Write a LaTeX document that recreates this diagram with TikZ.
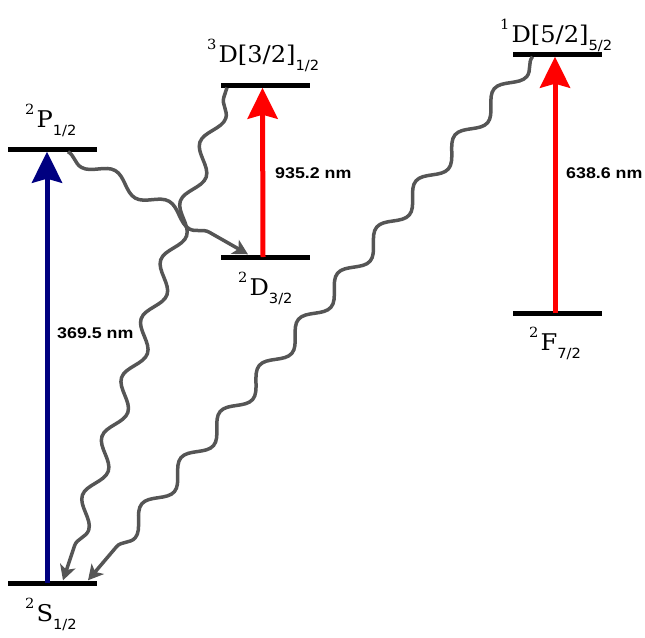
\documentclass[tikz,border=0pt]{standalone}
\usepackage{fontspec}
\usetikzlibrary{arrows.meta, calc, decorations.pathmorphing}
\newfontfamily\levelfont{DejaVu Serif}[FakeStretch=1.05]
\newfontfamily\levelsubfont{DejaVu Sans}[FakeStretch=1.05]
\newfontfamily\wavefont{Liberation Sans}[FakeStretch=1.15]
\definecolor{pumpblue}{HTML}{000080}
\definecolor{pumpred}{HTML}{FF0000}
\definecolor{decaygray}{HTML}{555555}
% term symbol: ^{mult} body _{J}
\newcommand{\term}[3]{%
  \raisebox{13pt}{\fontsize{14}{15}\levelfont #1}\hspace{2pt}%
  {\fontsize{23}{25}\levelfont #2}%
  \raisebox{-8pt}{\fontsize{14}{15}\levelsubfont #3}}

\begin{document}
\begin{tikzpicture}[x=1pt, y=-1pt,
    level/.style={fill=black, inner sep=0pt, minimum width=89pt, minimum height=5pt},
    term/.style={anchor=base west, inner sep=0pt},
    pump/.style={line width=5pt, -{Stealth[length=31pt, width=30pt, inset=4pt]}},
    decay/.style={decaygray, line width=3.5pt, -{Stealth[length=15pt, width=16pt, inset=4pt]}, decorate},
    wavelength/.style={anchor=base west, inner sep=0pt, font=\fontsize{15.5}{17}\wavefont\bfseries}]

    \useasboundingbox (0,0) rectangle (645,637);

    % Energy levels
    \node[level] (S12) at (52,583) {};
    \node[level] (P12) at (52,149) {};
    \node[level] (D32) at (265.5,257) {};
    \node[level] (D3half) at (265,85) {};
    \node[level] (D52) at (557.5,54) {};
    \node[level] (F72) at (557.5,313) {};

    % Level labels
    \node[term] (S12lbl) at (25,621) {\term{2}{S}{1/2}};
    \node[term] (P12lbl) at (25,127) {\term{2}{P}{1/2}};
    \node[term] (D32lbl) at (238,295) {\term{2}{D}{3/2}};
    \node[term] (D3halflbl) at (207,62) {\term{3}{D[3/2]}{1/2}};
    \node[term] (D52lbl) at (500,42) {\term{1}{D[5/2]}{5/2}};
    \node[term] (F72lbl) at (529,350) {\term{2}{F}{7/2}};

    % Laser transitions
    \draw[pump, pumpblue] ([xshift=-5pt]S12.center) -- ([xshift=-5pt]P12.south);
    \draw[pump, pumpred] ([xshift=-2.5pt]D32.center) -- ([xshift=-2.5pt]D3half.south);
    \draw[pump, pumpred] ([xshift=-2.5pt]F72.center) -- ([xshift=-2.5pt]D52.south);

    % Wavelengths
    \node[wavelength] (uv) at (57,338) {369.5 nm};
    \node[wavelength] (ir) at (275,178) {935.2 nm};
    \node[wavelength] (rd) at (566,178) {638.6 nm};

    % Spontaneous decays
    \draw[decay, decoration={snake, amplitude=7pt, segment length=62pt, post length=18pt, mirror}]
        ([xshift=16pt]P12.south) -- ([xshift=-17.5pt]D32.north);
    \draw[decay, decoration={snake, amplitude=8.5pt, segment length=62pt, pre length=10pt, post length=18pt}]
        ([xshift=-38pt]D3half.south) -- ([xshift=11pt]S12.north);
    \draw[decay, decoration={snake, amplitude=8.5pt, segment length=60.5pt, post length=18pt}]
        ([xshift=-25pt]D52.south) -- ([xshift=36pt]S12.north);
\end{tikzpicture}
\end{document}
